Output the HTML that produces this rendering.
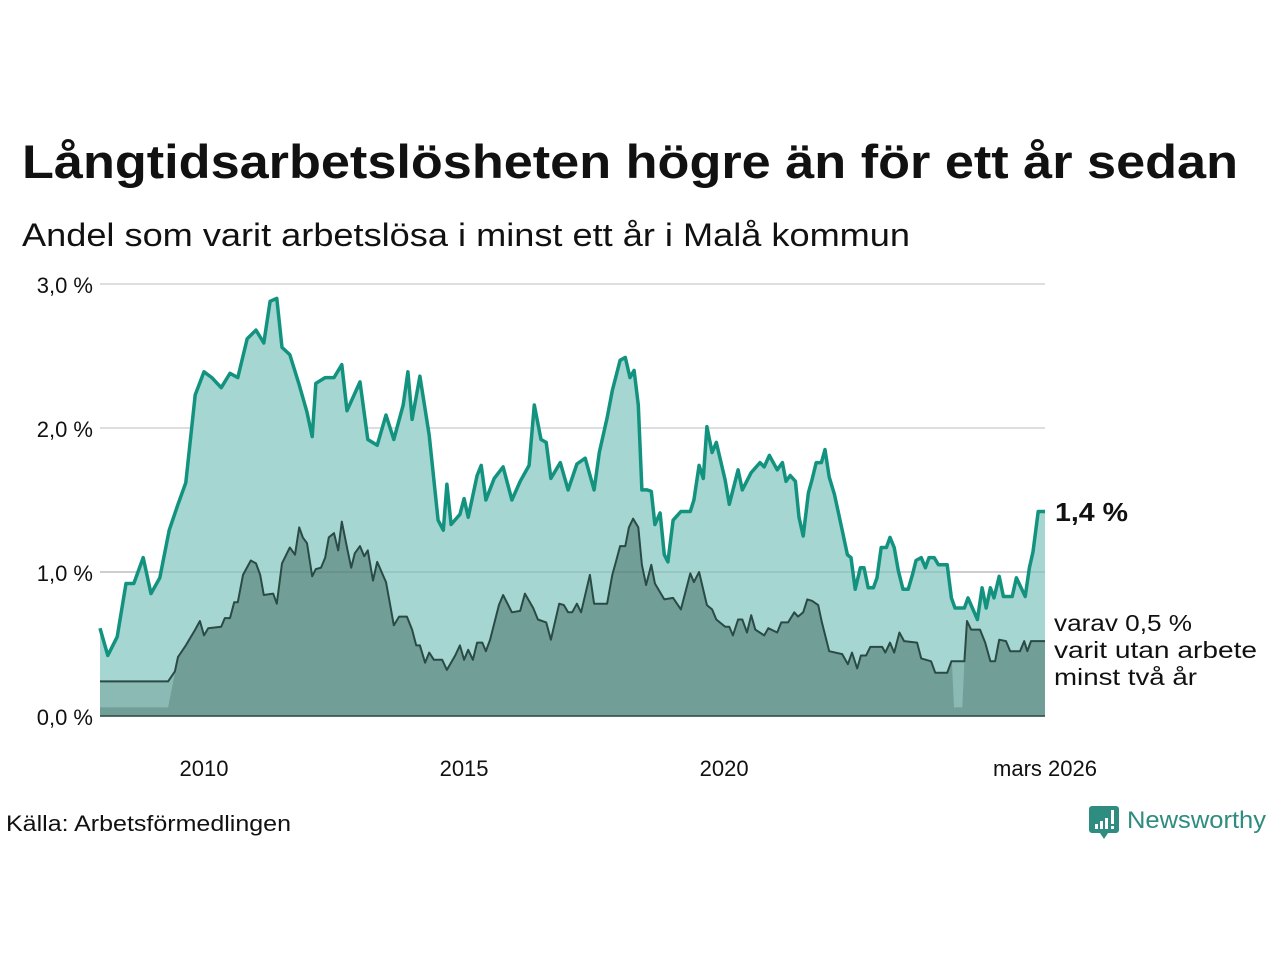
<!DOCTYPE html>
<html><head><meta charset="utf-8">
<style>
html,body{margin:0;padding:0;background:#fff;}
svg{display:block;font-family:"Liberation Sans","DejaVu Sans",sans-serif;}
</style></head>
<body>
<svg id="chart" width="1280" height="960" viewBox="0 0 1280 960" xmlns="http://www.w3.org/2000/svg">
<text x="22" y="178" font-size="47" font-weight="bold" fill="#111" textLength="1216" lengthAdjust="spacingAndGlyphs">Långtidsarbetslösheten högre än för ett år sedan</text>
<text x="22" y="246" font-size="32" fill="#111" textLength="888" lengthAdjust="spacingAndGlyphs">Andel som varit arbetslösa i minst ett år i Malå kommun</text>
<g id="grid"></g>
<g id="areas"></g>
<g id="yaxis"></g>
<g id="xaxis"></g>
<text x="1055" y="521" font-size="26" font-weight="bold" fill="#111" textLength="73" lengthAdjust="spacingAndGlyphs">1,4 %</text>
<g font-size="23" fill="#111">
<text x="1054" y="631" textLength="138" lengthAdjust="spacingAndGlyphs">varav 0,5 %</text>
<text x="1054" y="658" textLength="203" lengthAdjust="spacingAndGlyphs">varit utan arbete</text>
<text x="1054" y="685" textLength="143" lengthAdjust="spacingAndGlyphs">minst två år</text>
</g>
<text x="6" y="831" font-size="22" fill="#111" textLength="285" lengthAdjust="spacingAndGlyphs">Källa: Arbetsförmedlingen</text>
<g>
<path d="M1092,806 h24 a3,3 0 0 1 3,3 v21 a3,3 0 0 1 -3,3 h-8 l-4,6 l-4,-6 h-8 a3,3 0 0 1 -3,-3 v-21 a3,3 0 0 1 3,-3z" fill="#2e8c80"/>
<rect x="1095" y="824" width="3" height="5" fill="#fff"/><rect x="1100" y="821" width="3" height="8" fill="#fff"/><rect x="1105" y="818" width="3" height="11" fill="#fff"/><rect x="1111" y="810" width="3" height="14" fill="#fff"/><rect x="1111" y="826" width="3" height="3" fill="#fff"/>
<text x="1127" y="828" font-size="24" fill="#2e8c80" textLength="139" lengthAdjust="spacingAndGlyphs">Newsworthy</text>
</g>
</svg>
<script>
const yTicks=[0,1,2,3];
const yTickLabels=["0,0 %","1,0 %","2,0 %","3,0 %"];
const xTicks=[2010,2015,2020,2026.17];
const xTickLabels=["2010","2015","2020","mars 2026"];
const mainDates=[2008.00,2008.15,2008.33,2008.50,2008.65,2008.83,2008.98,2009.15,2009.33,2009.50,2009.65,2009.83,2010.00,2010.15,2010.33,2010.50,2010.65,2010.83,2011.00,2011.15,2011.27,2011.40,2011.50,2011.65,2011.83,2011.98,2012.08,2012.15,2012.33,2012.50,2012.65,2012.75,2013.00,2013.15,2013.33,2013.50,2013.65,2013.83,2013.92,2014.00,2014.15,2014.33,2014.50,2014.60,2014.67,2014.75,2014.92,2015.00,2015.08,2015.25,2015.33,2015.42,2015.58,2015.75,2015.92,2016.08,2016.25,2016.35,2016.48,2016.58,2016.67,2016.85,2017.00,2017.17,2017.33,2017.50,2017.60,2017.75,2017.85,2018.00,2018.10,2018.19,2018.27,2018.35,2018.42,2018.52,2018.60,2018.67,2018.77,2018.85,2018.92,2019.02,2019.17,2019.35,2019.42,2019.52,2019.60,2019.67,2019.77,2019.85,2020.02,2020.10,2020.27,2020.35,2020.52,2020.69,2020.77,2020.87,2021.02,2021.12,2021.19,2021.27,2021.37,2021.44,2021.52,2021.62,2021.69,2021.77,2021.87,2021.94,2022.02,2022.12,2022.27,2022.37,2022.44,2022.52,2022.62,2022.69,2022.77,2022.87,2022.94,2023.02,2023.12,2023.19,2023.27,2023.35,2023.44,2023.54,2023.62,2023.69,2023.79,2023.87,2023.94,2024.04,2024.12,2024.29,2024.37,2024.44,2024.62,2024.69,2024.87,2024.96,2025.04,2025.12,2025.19,2025.29,2025.37,2025.54,2025.62,2025.79,2025.87,2025.94,2026.04,2026.17];
const mainValues=[0.61,0.42,0.55,0.92,0.92,1.10,0.85,0.96,1.29,1.47,1.62,2.23,2.39,2.35,2.28,2.38,2.35,2.62,2.68,2.59,2.88,2.90,2.56,2.51,2.30,2.11,1.94,2.31,2.35,2.35,2.44,2.12,2.32,1.92,1.88,2.09,1.92,2.16,2.39,2.06,2.36,1.95,1.36,1.29,1.61,1.33,1.40,1.51,1.38,1.67,1.74,1.50,1.65,1.73,1.50,1.63,1.74,2.16,1.92,1.90,1.65,1.76,1.57,1.75,1.79,1.57,1.83,2.07,2.26,2.47,2.49,2.35,2.40,2.16,1.57,1.57,1.56,1.33,1.41,1.12,1.07,1.36,1.42,1.42,1.50,1.74,1.65,2.01,1.83,1.90,1.64,1.47,1.71,1.57,1.69,1.76,1.73,1.81,1.71,1.76,1.63,1.67,1.63,1.38,1.25,1.55,1.64,1.76,1.76,1.85,1.66,1.54,1.29,1.12,1.10,0.88,1.03,1.03,0.89,0.89,0.96,1.17,1.17,1.24,1.17,1.01,0.88,0.88,0.98,1.08,1.10,1.03,1.10,1.10,1.05,1.05,0.82,0.75,0.75,0.82,0.67,0.89,0.75,0.89,0.82,0.97,0.83,0.83,0.96,0.83,1.03,1.14,1.42,1.42];
const twoYearDates=[2008.00,2009.31,2009.44,2009.50,2009.65,2009.83,2009.92,2010.00,2010.08,2010.33,2010.40,2010.50,2010.58,2010.65,2010.75,2010.90,2011.00,2011.08,2011.15,2011.33,2011.40,2011.50,2011.65,2011.75,2011.83,2011.90,2011.98,2012.08,2012.15,2012.25,2012.33,2012.40,2012.50,2012.58,2012.65,2012.75,2012.83,2012.90,2013.00,2013.08,2013.15,2013.25,2013.33,2013.50,2013.58,2013.65,2013.75,2013.90,2014.00,2014.08,2014.15,2014.25,2014.33,2014.42,2014.58,2014.67,2014.83,2014.92,2015.00,2015.08,2015.17,2015.25,2015.35,2015.42,2015.50,2015.67,2015.75,2015.92,2016.08,2016.17,2016.33,2016.42,2016.58,2016.67,2016.83,2016.92,2017.00,2017.08,2017.17,2017.25,2017.42,2017.50,2017.75,2017.85,2017.92,2018.00,2018.10,2018.17,2018.25,2018.35,2018.42,2018.50,2018.60,2018.67,2018.85,2019.02,2019.17,2019.35,2019.42,2019.52,2019.67,2019.77,2019.85,2020.02,2020.10,2020.17,2020.27,2020.35,2020.44,2020.52,2020.60,2020.77,2020.85,2021.02,2021.10,2021.23,2021.35,2021.42,2021.52,2021.60,2021.69,2021.81,2021.88,2022.02,2022.27,2022.38,2022.46,2022.56,2022.63,2022.73,2022.81,2023.04,2023.10,2023.19,2023.27,2023.37,2023.46,2023.71,2023.79,2023.98,2024.06,2024.29,2024.37,2024.62,2024.67,2024.75,2024.92,2025.02,2025.12,2025.21,2025.29,2025.42,2025.50,2025.69,2025.77,2025.83,2025.90,2026.17];
const twoYearValues=[0.24,0.24,0.31,0.41,0.49,0.60,0.66,0.56,0.61,0.62,0.68,0.68,0.79,0.79,0.98,1.08,1.06,0.98,0.84,0.85,0.78,1.06,1.17,1.12,1.31,1.24,1.20,0.97,1.02,1.03,1.10,1.24,1.27,1.15,1.35,1.17,1.03,1.13,1.18,1.11,1.15,0.94,1.07,0.93,0.77,0.63,0.69,0.69,0.60,0.49,0.49,0.37,0.44,0.39,0.39,0.32,0.42,0.49,0.39,0.46,0.39,0.51,0.51,0.45,0.53,0.77,0.84,0.72,0.73,0.85,0.75,0.67,0.65,0.53,0.78,0.77,0.72,0.72,0.78,0.72,0.98,0.78,0.78,0.98,1.07,1.18,1.18,1.31,1.37,1.31,1.05,0.91,1.05,0.92,0.81,0.82,0.74,0.99,0.93,1.00,0.77,0.74,0.67,0.62,0.62,0.56,0.67,0.67,0.58,0.70,0.60,0.56,0.61,0.58,0.65,0.65,0.72,0.69,0.72,0.81,0.80,0.77,0.65,0.45,0.43,0.36,0.44,0.33,0.42,0.42,0.48,0.48,0.44,0.51,0.44,0.58,0.52,0.51,0.40,0.38,0.30,0.30,0.38,0.38,0.66,0.60,0.60,0.51,0.38,0.38,0.53,0.52,0.45,0.45,0.52,0.45,0.52,0.52];
// darker fill series: differs from two-year line only in these periods
const bandDates=[2008.00,2009.31,2009.50,2024.38,2024.42,2024.58,2024.62];
const bandValues=[0.06,0.06,0.41,0.38,0.06,0.06,0.38];

const X0=100,X1=1045,Y0=716,Y1=284,T0=2008.0,T1=2026.17,V1=3;
const xs=t=>X0+(t-T0)/(T1-T0)*(X1-X0);
const ys=v=>Y0-v/V1*(Y0-Y1);
const NS="http://www.w3.org/2000/svg";
function mk(tag,attrs,parent){const e=document.createElementNS(NS,tag);for(const k in attrs)e.setAttribute(k,attrs[k]);parent.appendChild(e);return e;}
function linePts(d,v){return d.map((t,i)=>xs(t).toFixed(1)+","+ys(v[i]).toFixed(1)).join(" ");}
function areaPts(d,v){return linePts(d,v)+" "+xs(d[d.length-1]).toFixed(1)+","+Y0+" "+xs(d[0]).toFixed(1)+","+Y0;}
function valAt(d,v,t){for(let i=1;i<d.length;i++){if(t<=d[i]){const f=(t-d[i-1])/(d[i]-d[i-1]);return v[i-1]+f*(v[i]-v[i-1]);}}return v[v.length-1];}
const inBand=t=>(t<=bandDates[2])||(t>=bandDates[3]&&t<=bandDates[6]);

const grid=document.getElementById('grid');
const yaxis=document.getElementById('yaxis');
yTicks.forEach((v,i)=>{
  const l=mk('line',{x1:X0,x2:X1,y1:ys(v),y2:ys(v),stroke:'#dedee2','stroke-width':2},grid);
  
  
  const t=mk('text',{x:93,y:ys(v)+9,'font-size':22,fill:'#111','text-anchor':'end'},yaxis);
  t.textContent=yTickLabels[i];
  
  
});
const areas=document.getElementById('areas');
const a1=mk('polygon',{points:areaPts(mainDates,mainValues),fill:'#a5d6d1'},areas);


const a2=mk('polygon',{points:areaPts(twoYearDates,twoYearValues),fill:'#8bbab4'},areas);


const allT=[...new Set([...twoYearDates,...bandDates])].sort((a,b)=>a-b);
const dVals=allT.map(t=>inBand(t)?valAt(bandDates,bandValues,t):valAt(twoYearDates,twoYearValues,t));
const a3=mk('polygon',{points:areaPts(allT,dVals),fill:'#729e98'},areas);


const gl=mk('line',{x1:X0,x2:X1,y1:ys(1),y2:ys(1),stroke:'#000','stroke-opacity':0.07,'stroke-width':2},areas);


const l2=mk('polyline',{points:linePts(twoYearDates,twoYearValues),fill:'none',stroke:'#2a4a45','stroke-width':2,'stroke-linejoin':'round'},areas);


const l1=mk('polyline',{points:linePts(mainDates,mainValues),fill:'none',stroke:'#13937f','stroke-width':3.5,'stroke-linejoin':'round'},areas);


const base=mk('line',{x1:X0,x2:X1,y1:Y0,y2:Y0,stroke:'#2a4a45','stroke-width':1.5},areas);


const xaxis=document.getElementById('xaxis');
xTicks.forEach((t,i)=>{
  const e=mk('text',{x:xs(t),y:776,'font-size':22,fill:'#111','text-anchor':'middle'},xaxis);
  e.textContent=xTickLabels[i];
  
  
});
</script>
</body></html>
